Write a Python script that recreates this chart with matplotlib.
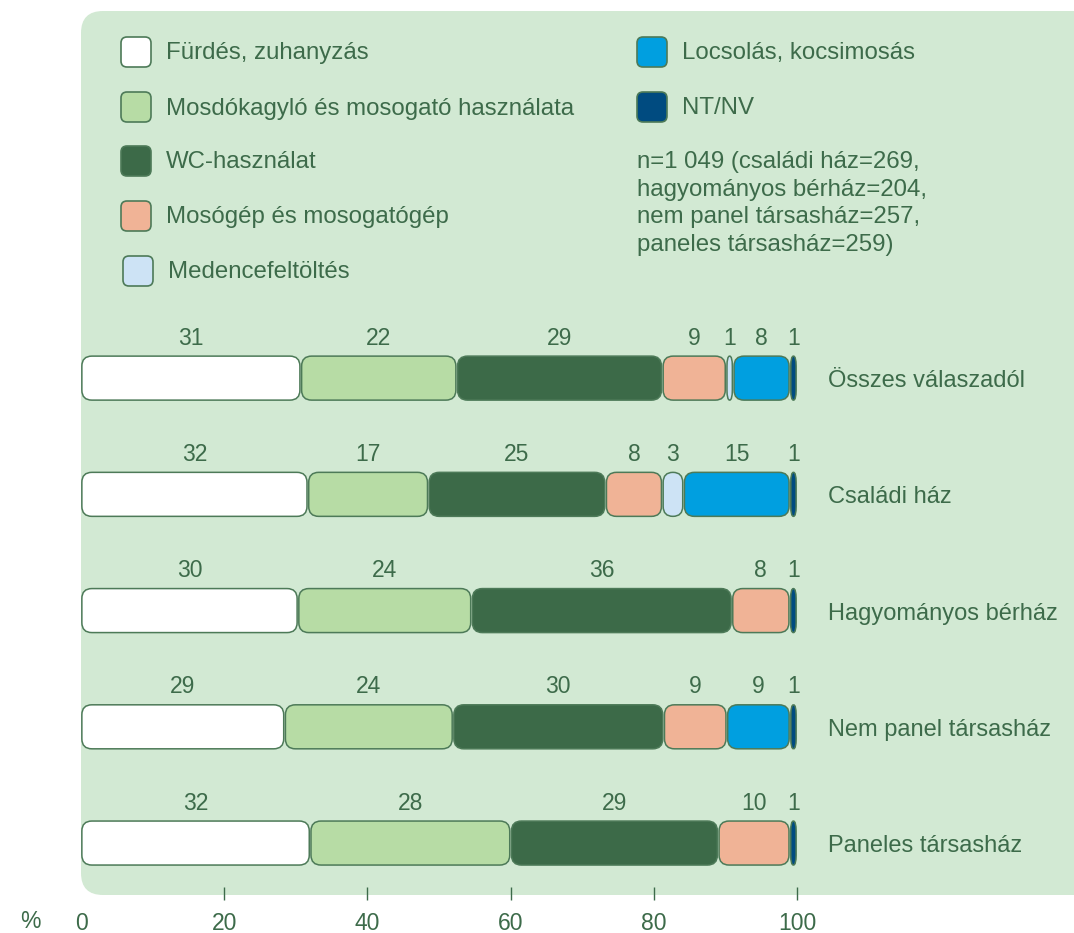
import matplotlib
matplotlib.use('Agg')
import matplotlib.pyplot as plt
from matplotlib.patches import FancyBboxPatch
import numpy as np

categories = ["Összes válaszadól", "Családi ház", "Hagyományos bérház",
              "Nem panel társasház", "Paneles társasház"]
series_names = ["Fürdés, zuhanyzás", "Mosdókagyló és mosogató használata",
                "WC-használat", "Mosógép és mosogatógép", "Medencefeltöltés",
                "Locsolás, kocsimosás", "NT/NV"]
furdes = [31, 32, 30, 29, 32]
mosdo = [22, 17, 24, 24, 28]
wc = [29, 25, 36, 30, 29]
mosogep = [9, 8, 8, 9, 10]
medence = [1, 3, 0, 0, 0]
locsolas = [8, 15, 0, 9, 0]
ntnv = [1, 1, 1, 1, 1]
note = ("n=1 049 (családi ház=269,\nhagyományos bérház=204,\n"
        "nem panel társasház=257,\npaneles társasház=259)")
xticks = [0, 20, 40, 60, 80, 100]

series = [furdes, mosdo, wc, mosogep, medence, locsolas, ntnv]
colors = ["#ffffff", "#b7dca5", "#3c6a48", "#f0b396", "#cde3f5", "#009fe0", "#004b80"]
BG = "#d2e9d3"
TXT = "#3d6b4a"
EDGE = "#4d7a58"
SANS = ["Liberation Sans", "DejaVu Sans"]

W, H = 1074, 933
fig = plt.figure(figsize=(W / 100, H / 100), dpi=100)

# background panel + legend, in pixel coordinates
bg = fig.add_axes([0, 0, 1, 1])
bg.set_xlim(0, W)
bg.set_ylim(H, 0)
bg.axis('off')
bg.add_patch(FancyBboxPatch((81, 11), 1100, 884, boxstyle="round,pad=0,rounding_size=22",
                            fc=BG, ec='none'))

leg_pos = [(121, 52), (121, 107), (121, 161), (121, 216), (123, 271), (637, 52), (637, 107)]
for (lx, ly), name, c in zip(leg_pos, series_names, colors):
    bg.add_patch(FancyBboxPatch((lx, ly - 15), 30, 30, boxstyle="round,pad=0,rounding_size=6",
                                fc=c, ec=EDGE, lw=1.2))
    bg.text(lx + 45, ly + 1.5, name, color=TXT, fontsize=17.3, family=SANS, va='center', ha='left')
bg.text(637, 151, note, color=TXT, fontsize=17.3, family=SANS, va='top', ha='left',
        linespacing=1.33)
bg.text(30, 922, "%", color=TXT, fontsize=16.5, family=SANS, va='center', ha='center')

# bars
ax = fig.add_axes([81 / W, (H - 900) / H, 716 / W, 580 / H])
ax.set_xlim(0, 100)
ax.set_ylim(4.49, -0.5)
ax.patch.set_alpha(0)
for s in ax.spines.values():
    s.set_visible(False)

px_x = 716 / 100
px_y = 580 / 4.99
bar_h = 44 / px_y
gap = 0.12
data = np.array(series, dtype=float)
totals = data.sum(axis=0)
for i, cat in enumerate(categories):
    left = 0.0
    for j in range(len(series)):
        raw = data[j, i]
        if raw == 0:
            continue
        v = raw / totals[i] * 100
        w = v - 2 * gap
        rx = min(10 / px_x, w / 2)
        ry = min(10 / px_y, bar_h / 2)
        ax.add_patch(FancyBboxPatch((left + gap, i - bar_h / 2), w, bar_h,
                                    boxstyle=f"round,pad=0,rounding_size={rx}",
                                    mutation_aspect=ry / rx,
                                    fc=colors[j], ec=EDGE, lw=1.1))
        ax.text(left + v / 2, i - 40 / px_y, f"{int(raw)}", color=TXT, fontsize=16.5,
                family=SANS, ha='center', va='center')
        left += v
    ax.text(104.3, i + 3 / px_y, cat, color=TXT, fontsize=17, family=SANS, ha='left', va='center')

ax.set_yticks([])
ax.set_xticks(xticks)
ax.set_xticklabels([str(t) for t in xticks])
ax.tick_params(axis='x', direction='in', length=9.4, width=1, color=TXT,
               labelcolor=TXT, labelsize=16.5, pad=8.5)
for lab in ax.get_xticklabels():
    lab.set_fontfamily(SANS)
ax.xaxis.get_major_ticks()[0].tick1line.set_visible(False)

fig.savefig("out.png", dpi=100)
